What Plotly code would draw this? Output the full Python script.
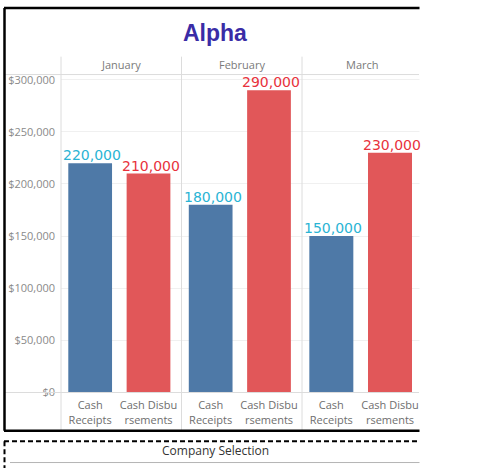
import plotly.graph_objects as go

# ---- data ----
months = ["January", "February", "March"]
categories = ["Cash Receipts", "Cash Disbursements"]
category_labels = ["Cash<br>Receipts", "Cash Disbu<br>rsements"]
receipts = [220000, 180000, 150000]
disbursements = [210000, 290000, 230000]
y_ticks = [0, 50000, 100000, 150000, 200000, 250000, 300000]
y_tick_labels = ["$0", "$50,000", "$100,000", "$150,000", "$200,000", "$250,000", "$300,000"]
title_text = "Alpha"
filter_title = "Company Selection"
filter_value = "Alpha"

W, H = 484, 468          # reference frame (pixels used for placement)
FIG_H = 475              # figure height actually requested
BLUE = "#4e79a7"
RED = "#e15759"
HAND_BLUE = "#2ab4d4"
HAND_RED = "#e8323c"
FONT = "Open Sans"


def px(x):
    return x / W


def py(y):
    return (H - y) / H


panel_edges = [61, 181.5, 302, 423]

fig = go.Figure()
for i, m in enumerate(months):
    ax = "x" if i == 0 else f"x{i+1}"
    fig.add_trace(go.Bar(
        x=categories,
        y=[receipts[i], disbursements[i]],
        marker=dict(color=[BLUE, RED], line=dict(width=0)),
        xaxis=ax, yaxis="y",
        showlegend=False,
        hoverinfo="x+y",
    ))

layout = dict(
    width=W, height=FIG_H, autosize=False,
    margin=dict(l=0, r=0, t=0, b=0),
    paper_bgcolor="white", plot_bgcolor="white",
    bargap=0.25,
    showlegend=False,
    yaxis=dict(
        domain=[py(392), py(72)],
        range=[0, 305000],
        anchor="x",
        tickvals=y_ticks, ticktext=y_tick_labels,
        tickfont=dict(family=FONT, size=11, color="#8a8a8a"),
        showgrid=True, gridcolor="#f0f0f0", gridwidth=1,
        zeroline=False, showline=False, ticks="",
        ticklabelstandoff=5,
    ),
)
for i in range(3):
    key = "xaxis" if i == 0 else f"xaxis{i+1}"
    layout[key] = dict(
        domain=[px(panel_edges[i]), px(panel_edges[i + 1])],
        anchor="y",
        type="category",
        categoryorder="array", categoryarray=categories,
        tickvals=categories, ticktext=category_labels,
        tickfont=dict(family=FONT, size=11, color="#6e6e6e"),
        showgrid=False, zeroline=False, showline=False, ticks="",
        ticklabelstandoff=5,
    )
fig.update_layout(**layout)

annotations = []
# title
annotations.append(dict(
    text=f"<b>{title_text}</b>", x=px(215), y=py(30), xref="paper", yref="paper",
    xanchor="center", yanchor="middle", showarrow=False,
    font=dict(family="Liberation Sans", size=23, color="#3a2ca6"),
))
# month headers
for i, m in enumerate(months):
    xr = "x domain" if i == 0 else f"x{i+1} domain"
    annotations.append(dict(
        text=m, x=0.5, y=py(62), xref=xr, yref="paper",
        xanchor="center", yanchor="middle", showarrow=False,
        font=dict(family=FONT, size=11, color="#7a7a7a"),
    ))
# hand-written value labels
for i in range(3):
    xr = "x" if i == 0 else f"x{i+1}"
    for cat, val, col in ((categories[0], receipts[i], HAND_BLUE),
                          (categories[1], disbursements[i], HAND_RED)):
        annotations.append(dict(
            text=f"{val:,}", x=cat, y=val, xref=xr, yref="y",
            xanchor="center", yanchor="bottom", showarrow=False,
            xshift=2, yshift=-2,
            font=dict(family="DejaVu Sans", size=14, color=col),
        ))
# filter card
annotations.append(dict(
    text=filter_title, x=px(215), y=py(450), xref="paper", yref="paper",
    xanchor="center", yanchor="middle", showarrow=False,
    font=dict(family=FONT, size=12, color="#333333"),
))
annotations.append(dict(
    text=filter_value, x=px(13), y=py(463), xref="paper", yref="paper",
    xanchor="left", yanchor="top", showarrow=False,
    font=dict(family=FONT, size=12, color="#333333"),
))
fig.update_layout(annotations=annotations)

shapes = []


def line(x0, y0, x1, y1, color, width=1, dash="solid", layer="above"):
    shapes.append(dict(type="line", xref="paper", yref="paper",
                       x0=px(x0), y0=py(y0), x1=px(x1), y1=py(y1),
                       line=dict(color=color, width=width, dash=dash), layer=layer))


GRAY = "#dcdcdc"
# header bottom line and baseline
line(5, 72, 419, 72, GRAY)
line(5, 392, 419, 392, GRAY)
# panel separators
for xe in panel_edges[:3]:
    line(xe, 54, xe, 430, GRAY)
# white mask to the right (cropped screenshot)
shapes.append(dict(type="rect", xref="paper", yref="paper",
                   x0=px(419.5), x1=1, y0=0, y1=1,
                   fillcolor="white", line=dict(width=0), layer="above"))
# outer black border
line(4.5, 5, 4.5, 430.5, "black", 2.5)
line(4, 5, 419.5, 5, "black", 2.5)
line(4, 430.5, 419.5, 430.5, "black", 2.5)
# filter card: dashed border and divider
line(4, 441, 419.5, 441, "black", 2, dash="5px,3px")
line(4.5, 441, 4.5, 468, "black", 2, dash="5px,3px")
line(10, 462.5, 419.5, 462.5, "#b4b4b4", 1)
fig.update_layout(shapes=shapes)

fig.write_html(
    "out.html",
    config={"displayModeBar": False, "responsive": False},
    post_script=(
        "document.documentElement.style.margin='0px';"
        "document.documentElement.style.overflow='hidden';"
        "document.body.style.margin='0px';"
        "document.body.style.padding='0px';"
        "document.body.style.overflow='hidden';"
    ),
)
